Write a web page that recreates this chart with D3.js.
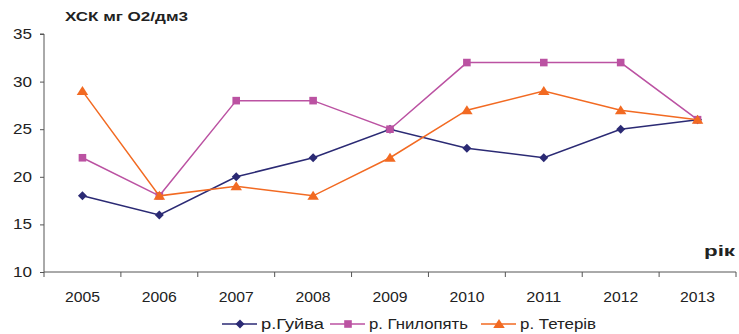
<!DOCTYPE html>
<html>
<head>
<meta charset="utf-8">
<script src="https://cdn.jsdelivr.net/npm/d3@7"></script>
<style>
  body { margin: 0; background: #fff; }
  svg { display: block; font-family: Arial, "Liberation Sans", sans-serif; }
</style>
</head>
<body>
<svg id="chart" width="739" height="334"></svg>
<script>
// data
const years = ["2005", "2006", "2007", "2008", "2009", "2010", "2011", "2012", "2013"];
const guyva = [18, 16, 20, 22, 25, 23, 22, 25, 26];
const hnylopiat = [22, 18, 28, 28, 25, 32, 32, 32, 26];
const teteriv = [29, 18, 19, 18, 22, 27, 29, 27, 26];
const seriesNames = ["р.Гуйва", "р. Гнилопять", "р. Тетерів"];
const yTicks = [10, 15, 20, 25, 30, 35];

// small custom markers, the built-in ones are a bit off in shape
const diamond = { draw(ctx, r) { ctx.moveTo(0, -r); ctx.lineTo(r, 0); ctx.lineTo(0, r); ctx.lineTo(-r, 0); ctx.closePath(); } };
const square = { draw(ctx, r) { ctx.rect(-r, -r, 2 * r, 2 * r); } };
const triangle = { draw(ctx, r) { ctx.moveTo(0, -r); ctx.lineTo(r * 1.15, r * 0.8); ctx.lineTo(-r * 1.15, r * 0.8); ctx.closePath(); } };

const series = [
  { name: seriesNames[0], values: guyva, color: "#2b2a74", symbol: diamond, r: 4.5, legendW: 63 },
  { name: seriesNames[1], values: hnylopiat, color: "#bb52a2", symbol: square, r: 3.8, legendW: 99 },
  { name: seriesNames[2], values: teteriv, color: "#f26a22", symbol: triangle, r: 5, legendW: 76 }
];

const svg = d3.select("#chart");
const plot = { left: 44, right: 736, top: 34, bottom: 272 };

const x = d3.scaleBand().domain(years).range([plot.left, plot.right]);
const y = d3.scaleLinear().domain([10, 35]).range([plot.bottom, plot.top]);

// y axis
const yAxis = svg.append("g")
  .attr("transform", `translate(${plot.left},0)`)
  .call(d3.axisLeft(y).tickValues(yTicks).tickSize(4).tickPadding(8));
yAxis.select(".domain").attr("stroke", "#555").attr("d", `M-4,${plot.top}H0V${plot.bottom}`);
yAxis.selectAll(".tick line").attr("stroke", "#555");
yAxis.selectAll("text")
  .attr("font-size", 14).attr("fill", "#222")
  .attr("textLength", 19).attr("lengthAdjust", "spacingAndGlyphs");

// x axis, ticks at the category boundaries
const xAxis = svg.append("g")
  .attr("transform", `translate(0,${plot.bottom})`)
  .call(d3.axisBottom(x).tickSize(0).tickPadding(20));
xAxis.select(".domain").attr("stroke", "#555").attr("d", `M${plot.left},0H${plot.right}`);
xAxis.selectAll("text")
  .attr("font-size", 14).attr("fill", "#222")
  .attr("textLength", 35).attr("lengthAdjust", "spacingAndGlyphs");
xAxis.selectAll(".boundary")
  .data(years.concat(["end"]))
  .join("line")
  .attr("class", "boundary")
  .attr("x1", (d, i) => i < years.length ? x(d) : x.range()[1])
  .attr("x2", (d, i) => i < years.length ? x(d) : x.range()[1])
  .attr("y1", 0).attr("y2", 5)
  .attr("stroke", "#555");

// titles
svg.append("text")
  .attr("x", 65).attr("y", 21)
  .attr("font-size", 13).attr("font-weight", "bold").attr("fill", "#222")
  .attr("textLength", 123).attr("lengthAdjust", "spacingAndGlyphs")
  .text("ХСК мг О2/дм3");
svg.append("text")
  .attr("x", 704).attr("y", 256)
  .attr("font-size", 14).attr("font-weight", "bold").attr("fill", "#222")
  .attr("textLength", 31).attr("lengthAdjust", "spacingAndGlyphs")
  .text("рік");

const cx = d => x(d) + x.bandwidth() / 2;
const line = d3.line().x((d, i) => cx(years[i])).y(d => y(d));

series.forEach(s => {
  const g = svg.append("g");
  g.append("path")
    .attr("d", line(s.values))
    .attr("fill", "none")
    .attr("stroke", s.color)
    .attr("stroke-width", 1.5);
  g.selectAll("path.mark")
    .data(s.values)
    .join("path")
    .attr("class", "mark")
    .attr("transform", (d, i) => `translate(${cx(years[i])},${y(d)})`)
    .attr("d", d3.symbol().type(s.symbol).size(s.r))
    .attr("fill", s.color);
});

// legend
const legendPos = [222, 330, 481];
series.forEach((s, i) => {
  const g = svg.append("g").attr("transform", `translate(${legendPos[i]},324)`);
  g.append("line").attr("x1", 0).attr("x2", 35).attr("stroke", s.color).attr("stroke-width", 1.5);
  g.append("path")
    .attr("transform", "translate(18,0)")
    .attr("d", d3.symbol().type(s.symbol).size(s.r))
    .attr("fill", s.color);
  g.append("text")
    .attr("x", 39).attr("y", 5)
    .attr("font-size", 14).attr("fill", "#222")
    .attr("textLength", s.legendW).attr("lengthAdjust", "spacingAndGlyphs")
    .text(s.name);
});
</script>
</body>
</html>
